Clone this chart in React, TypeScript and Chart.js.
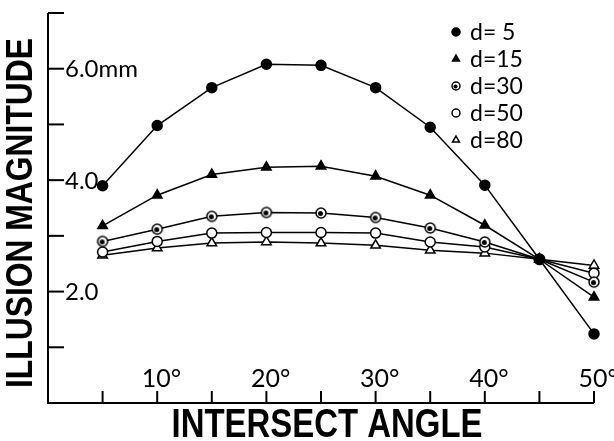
import React, { useEffect, useRef } from "react";
import { Chart, registerables } from "chart.js";
import { drawPoint } from "chart.js/helpers";

Chart.register(...registerables);

// ---- data ----
const angles = [5, 10, 15, 20, 25, 30, 35, 40, 45, 50];
const d5 = [3.9, 4.98, 5.66, 6.08, 6.06, 5.66, 4.95, 3.91, 2.58, 1.24];
const d15 = [3.18, 3.73, 4.1, 4.23, 4.25, 4.07, 3.73, 3.19, 2.58, 1.9];
const d30 = [2.9, 3.12, 3.35, 3.42, 3.41, 3.33, 3.14, 2.89, 2.58, 2.17];
const d50 = [2.71, 2.9, 3.05, 3.06, 3.06, 3.05, 2.89, 2.8, 2.58, 2.33];
const d80 = [2.65, 2.78, 2.87, 2.89, 2.87, 2.83, 2.74, 2.69, 2.58, 2.47];
const seriesLabels = ["d= 5", "d=15", "d=30", "d=50", "d=80"];

const yTickValues = [1, 2, 3, 4, 5, 6, 7];
const yLabelValues = [6, 4, 2];
const yLabelTexts = ["6.0mm", "4.0", "2.0"];
const xTickValues = [5, 10, 15, 20, 25, 30, 35, 40, 45, 50];
const xLabelValues = [10, 20, 30, 40, 50];
const xLabelTexts = ["10", "20", "30", "40", "50"];
const xTitle = "INTERSECT ANGLE";
const yTitle = "ILLUSION MAGNITUDE";

const NUM_FONT = "Lato, 'DejaVu Sans', sans-serif";
const TITLE_FONT = "'Liberation Sans Narrow', 'Liberation Sans', Arial, sans-serif";

function dotCircle(r: number, scale = 1): HTMLCanvasElement {
  const c = document.createElement("canvas");
  const s = Math.ceil((r + 2) * 2);
  c.width = s;
  c.height = s;
  const g = c.getContext("2d")!;
  g.fillStyle = "#fff";
  g.strokeStyle = "#000";
  g.lineWidth = 1.5;
  g.beginPath();
  g.arc(s / 2, s / 2, r, 0, Math.PI * 2);
  g.fill();
  g.stroke();
  g.fillStyle = "#000";
  g.beginPath();
  g.arc(s / 2 - 0.5 * scale, s / 2 + 0.5 * scale, r * 0.5, 0, Math.PI * 2);
  g.fill();
  return c;
}

const axesPlugin = {
  id: "customAxes",
  afterDraw(chart: any) {
    const { ctx, chartArea: a } = chart;
    const x = chart.scales.x;
    const y = chart.scales.y;
    ctx.save();
    ctx.strokeStyle = "#000";
    ctx.fillStyle = "#000";
    ctx.lineWidth = 2;
    ctx.lineCap = "butt";
    // axis lines
    ctx.beginPath();
    ctx.moveTo(a.left, y.getPixelForValue(7));
    ctx.lineTo(a.left, a.bottom);
    ctx.lineTo(x.getPixelForValue(50), a.bottom);
    ctx.stroke();
    // y ticks (inside)
    yTickValues.forEach((v) => {
      const py = y.getPixelForValue(v);
      ctx.beginPath();
      ctx.moveTo(a.left, py);
      ctx.lineTo(a.left + 16, py);
      ctx.stroke();
    });
    // x ticks (inside)
    xTickValues.forEach((v) => {
      const px = x.getPixelForValue(v);
      ctx.beginPath();
      ctx.moveTo(px, a.bottom);
      ctx.lineTo(px, a.bottom - 12);
      ctx.stroke();
    });
    // y labels
    ctx.font = `24px ${NUM_FONT}`;
    ctx.textAlign = "left";
    ctx.textBaseline = "middle";
    yLabelValues.forEach((v, i) => {
      ctx.fillText(yLabelTexts[i], a.left + 17, y.getPixelForValue(v) + 1);
    });
    // x labels
    ctx.font = `25px ${NUM_FONT}`;
    ctx.textBaseline = "alphabetic";
    xLabelValues.forEach((v, i) => {
      const px = x.getPixelForValue(v);
      const w = ctx.measureText(xLabelTexts[i]).width;
      ctx.fillText(xLabelTexts[i] + "°", px - w / 2 - 1, a.bottom - 16);
    });
    // x title
    ctx.font = `bold 41px ${TITLE_FONT}`;
    {
      const w = ctx.measureText(xTitle).width;
      const target = 311;
      ctx.save();
      ctx.translate(327, 437);
      ctx.scale(target / w, 1);
      ctx.textAlign = "center";
      ctx.fillText(xTitle, 0, 0);
      ctx.restore();
    }
    // y title
    ctx.font = `bold 37px ${TITLE_FONT}`;
    {
      const w = ctx.measureText(yTitle).width;
      const target = 350;
      ctx.save();
      ctx.translate(32, 213);
      ctx.rotate(-Math.PI / 2);
      ctx.scale(target / w, 1);
      ctx.textAlign = "center";
      ctx.fillText(yTitle, 0, 0);
      ctx.restore();
    }
    // legend
    ctx.font = `23px ${NUM_FONT}`;
    ctx.textAlign = "left";
    ctx.textBaseline = "middle";
    chart.data.datasets.forEach((ds: any, i: number) => {
      const ly = 32 + i * 27;
      ctx.save();
      ctx.fillStyle = ds.pointBackgroundColor;
      ctx.strokeStyle = "#000";
      ctx.lineWidth = 1.5;
      drawPoint(
        ctx,
        {
          pointStyle: ds.legendStyle,
          radius: 4,
          rotation: 0,
          borderWidth: 1.5,
        } as any,
        456,
        ly
      );
      ctx.restore();
      ctx.fillText(ds.label, 470, ly + 1);
    });
    ctx.restore();
  },
};

export default function App() {
  const ref = useRef<HTMLCanvasElement>(null);
  useEffect(() => {
    if (!ref.current) return;
    const dot = dotCircle(5);
    const dotSmall = dotCircle(4);
    const mk = (vals: number[]) => vals.map((v, i) => ({ x: angles[i], y: v }));
    const base = {
      borderColor: "#000",
      borderWidth: 1.5,
      pointBorderColor: "#000",
      pointBorderWidth: 1.5,
      tension: 0,
      clip: false as any,
    };
    const chart = new Chart(ref.current, {
      type: "line",
      data: {
        datasets: [
          { ...base, label: seriesLabels[0], data: mk(d5), pointStyle: "circle", pointRadius: 5, pointBackgroundColor: "#000", legendStyle: "circle" } as any,
          { ...base, label: seriesLabels[1], data: mk(d15), pointStyle: "triangle", pointRadius: 5.5, pointBackgroundColor: "#000", legendStyle: "triangle" } as any,
          { ...base, label: seriesLabels[2], data: mk(d30), pointStyle: dot, pointRadius: 5, pointBackgroundColor: "#fff", legendStyle: dotSmall } as any,
          { ...base, label: seriesLabels[3], data: mk(d50), pointStyle: "circle", pointRadius: 5, pointBackgroundColor: "#fff", legendStyle: "circle" } as any,
          { ...base, label: seriesLabels[4], data: mk(d80), pointStyle: "triangle", pointRadius: 5.5, pointBackgroundColor: "#fff", legendStyle: "triangle" } as any,
        ],
      },
      options: {
        animation: false,
        responsive: false,
        layout: { padding: { left: 48, right: 20, top: 13, bottom: 38 } },
        plugins: { legend: { display: false }, title: { display: false }, tooltip: { enabled: false } },
        scales: {
          x: { type: "linear", min: 0, max: 50, display: false },
          y: { type: "linear", min: 0, max: 7, display: false },
        },
      },
      plugins: [axesPlugin],
    });
    return () => chart.destroy();
  }, []);
  return (
    <div style={{ position: "fixed", left: 0, top: 0, width: 614, height: 441, background: "#fff" }}>
      <canvas ref={ref} width={614} height={441} />
    </div>
  );
}
